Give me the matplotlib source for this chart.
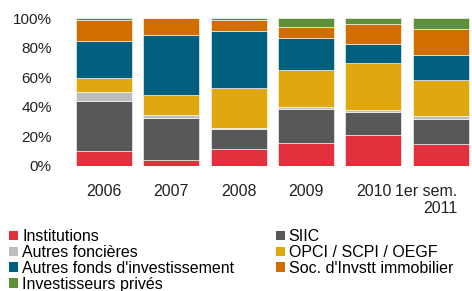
import matplotlib
matplotlib.use("Agg")
import matplotlib.pyplot as plt
from matplotlib.patches import Patch
from matplotlib.transforms import ScaledTranslation
import numpy as np

plt.rcParams["font.family"] = ["Liberation Sans", "DejaVu Sans"]

periods = ["2006", "2007", "2008", "2009", "2010", "1er sem.\n2011"]
series = [
    "Institutions",
    "SIIC",
    "Autres foncières",
    "OPCI / SCPI / OEGF",
    "Autres fonds d'investissement",
    "Soc. d'Invstt immobilier",
    "Investisseurs privés",
]
# parts (%) per period, bottom to top
institutions = [10.3, 3.8, 11.2, 15.2, 20.9, 14.8]
siic = [33.7, 28.7, 13.9, 23.6, 15.6, 16.8]
autres_foncieres = [6.0, 1.8, 0.7, 1.1, 1.6, 2.5]
opci = [9.4, 13.5, 26.9, 24.7, 31.2, 24.0]
autres_fonds = [25.1, 41.0, 38.8, 21.9, 13.2, 17.2]
soc_invstt = [14.4, 11.2, 7.4, 7.2, 13.5, 17.3]
prives = [1.1, 0.0, 1.1, 6.3, 4.0, 7.4]

colors = ["#E3303D", "#58585A", "#BDBDBF", "#DFA80F", "#005F7D", "#D16E00", "#5E9137"]
values = [institutions, siic, autres_foncieres, opci, autres_fonds, soc_invstt, prives]

fig = plt.figure(figsize=(4.72, 2.91), dpi=100)
ax = fig.add_axes([0.148, 0.4296, 0.852, 0.5085])

x = np.arange(len(periods))
bottom = np.zeros(len(periods))
for vals, col in zip(values, colors):
    ax.bar(x, vals, bottom=bottom, width=0.83, color=col, edgecolor="white", linewidth=0.4)
    bottom += np.array(vals)

ax.set_ylim(0, 100)
ax.set_xlim(-0.5, 5.46)
ax.set_yticks([0, 20, 40, 60, 80, 100])
ax.set_yticklabels([f"{v}%" for v in [0, 20, 40, 60, 80, 100]])
ax.set_xticks(x)
ax.set_xticklabels(periods)
for s in ax.spines.values():
    s.set_visible(False)
ax.tick_params(axis="both", length=0, labelsize=11, colors="#222222")
ax.tick_params(axis="x", pad=13, labelsize=11.5)
ax.tick_params(axis="y", pad=13)

# dernier libellé aligné à droite
last = ax.get_xticklabels()[-1]
last.set_multialignment("right")
last.set_transform(last.get_transform() + ScaledTranslation(-15 / 100, 0, fig.dpi_scale_trans))

order = [0, 2, 4, 6, 1, 3, 5]
handles = [Patch(facecolor=colors[i], edgecolor="none") for i in order]
labels = [series[i] for i in order]
fig.legend(
    handles, labels, ncol=2, loc="upper left", bbox_to_anchor=(0.02, 0.212),
    frameon=False, fontsize=11.5, handlelength=0.55, handleheight=0.55,
    handletextpad=0.25, labelspacing=0.05, columnspacing=2.6, borderaxespad=0,
    borderpad=0,
)

fig.savefig("out.png", dpi=100)
